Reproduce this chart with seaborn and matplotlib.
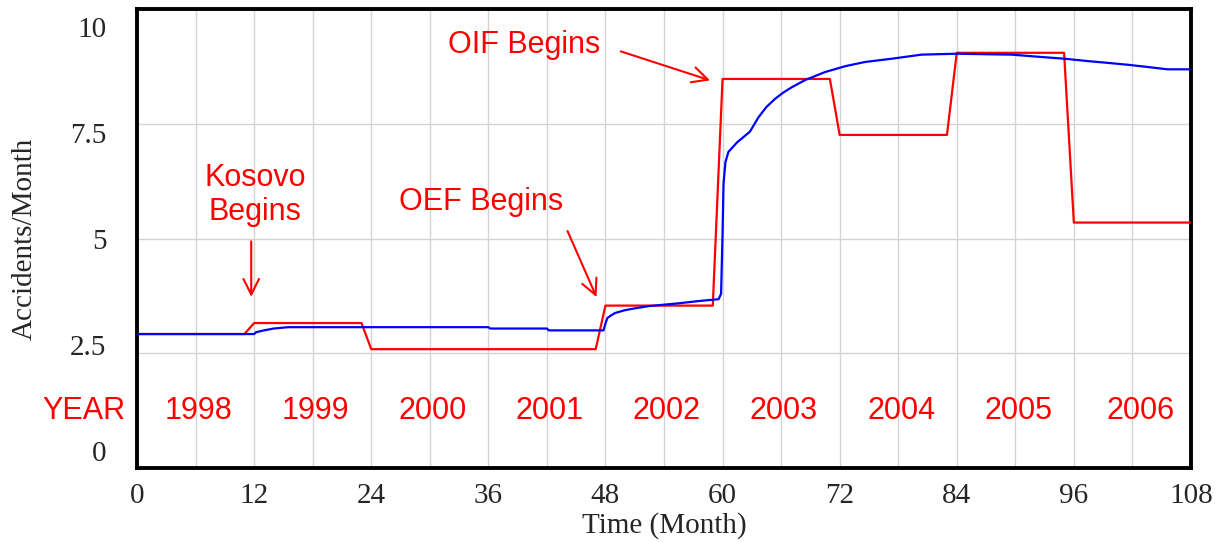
import numpy as np
import pandas as pd
import seaborn as sns
import matplotlib
matplotlib.use("Agg")
import matplotlib.pyplot as plt
from matplotlib.transforms import ScaledTranslation

# blue: simulated accidents per month
acc_month = [0, 12.0, 12.2, 13.0, 14.0, 15.5, 24, 36, 36.2, 42, 42.2, 47.8, 48.0, 48.2,
             48.6, 49.0, 50.0, 51.0, 52.5, 54.0, 55.5, 57.6, 59.6, 59.85, 60.0, 60.1,
             60.3, 60.6, 61.5, 62.8, 63.7, 64.5, 65.4, 66.2, 67.1, 68.5, 70.5, 72.6,
             74.6, 77.3, 80.4, 84, 89.6, 92.6, 95.1, 97.4, 99.5, 101.5, 103.6, 105.6, 108]
acc_value = [2.92, 2.92, 2.96, 3.00, 3.04, 3.07, 3.07, 3.07, 3.04, 3.04, 3.00, 3.00, 3.15,
             3.27, 3.33, 3.38, 3.44, 3.48, 3.53, 3.56, 3.59, 3.64, 3.68, 3.80, 5.10, 6.20,
             6.67, 6.89, 7.10, 7.33, 7.65, 7.87, 8.05, 8.18, 8.30, 8.46, 8.63, 8.76,
             8.85, 8.92, 9.01, 9.03, 9.01, 8.96, 8.92, 8.87, 8.83, 8.79, 8.74, 8.69, 8.69]

# red: reference accident rate by period
ref_month = [0, 11, 12, 23, 24, 47, 48, 59, 60, 71, 72, 83, 84, 95, 96, 108]
ref_value = [2.92, 2.92, 3.16, 3.16, 2.59, 2.59, 3.54, 3.54, 8.48, 8.48, 7.26, 7.26,
             9.05, 9.05, 5.35, 5.35]

years = ["1998", "1999", "2000", "2001", "2002", "2003", "2004", "2005", "2006"]

blue = pd.DataFrame({"month": acc_month, "value": acc_value})
red = pd.DataFrame({"month": ref_month, "value": ref_value})

sns.set_style("white")
plt.rcParams["font.family"] = ["Liberation Serif", "DejaVu Serif"]
red_font = ["Liberation Sans", "DejaVu Sans"]

fig = plt.figure(figsize=(12.15, 5.42), dpi=100)
ax = fig.add_axes([0.1128, 0.1365, 0.8674, 0.8465])

sns.lineplot(data=red, x="month", y="value", color="#ff0000", lw=1.6, ax=ax, zorder=3)
sns.lineplot(data=blue, x="month", y="value", color="#0000ff", lw=1.6, ax=ax, zorder=4)

ax.set_xlim(0, 108)
ax.set_ylim(0, 10)
ax.set_xticks(np.arange(0, 109, 12))
ax.set_xticks(np.arange(6, 108, 12), minor=True)
ax.set_yticks([0, 2.5, 5, 7.5, 10])
ax.set_yticklabels(["0", "2.5", "5", "7.5", "10"])
ax.grid(True, which="both", color="#d4d4d4", lw=1.0)
ax.set_axisbelow(True)
ax.tick_params(axis="both", which="both", length=0, labelsize=21)
ax.tick_params(axis="x", pad=11)
ax.tick_params(axis="y", pad=22)
for s in ax.spines.values():
    s.set_visible(True)
    s.set_color("black")
    s.set_linewidth(2.8)

ax.set_xlabel("Time (Month)", fontsize=21)
ax.set_ylabel("Accidents/Month", fontsize=21)
ax.xaxis.set_label_coords(0.5, -0.095)
ax.yaxis.set_label_coords(-0.094, 0.5)

# year strip
ytr = ax.get_yaxis_transform()
ax.text(-0.011, 1.24, "YEAR", transform=ytr, ha="right", va="center",
        color="red", fontsize=22, family=red_font)
for i, y in enumerate(years):
    xpos = 12 * i + 6.3
    if i == len(years) - 1:
        xpos = 102.8
    ax.text(xpos, 1.24, y, ha="center", va="center", color="red",
            fontsize=22, family=red_font)

# event annotations
arrow = dict(arrowstyle="->", color="red", lw=1.5, mutation_scale=28)
ax.text(12.1, 5.95, "Kosovo\nBegins", ha="center", va="center", color="red",
        fontsize=22, family=red_font, linespacing=1.15)
ax.annotate("", xy=(11.7, 3.67), xytext=(11.7, 5.0), arrowprops=arrow)
ax.text(35.3, 5.8, "OEF Begins", ha="center", va="center", color="red",
        fontsize=22, family=red_font)
ax.annotate("", xy=(47.2, 3.67), xytext=(44.0, 5.22), arrowprops=arrow)
ax.text(39.7, 9.21, "OIF Begins", ha="center", va="center", color="red",
        fontsize=22, family=red_font)
ax.annotate("", xy=(59.0, 8.43), xytext=(49.3, 9.1), arrowprops=arrow)

# nudge y tick labels toward centre like the original (~3.5 px per unit)
for lab, v in zip(ax.get_yticklabels(), [0, 2.5, 5, 7.5, 10]):
    dy = (5 - v) * 3.5 / 100
    lab.set_transform(lab.get_transform() + ScaledTranslation(0, dy, fig.dpi_scale_trans))

fig.savefig("out.png", dpi=100)
